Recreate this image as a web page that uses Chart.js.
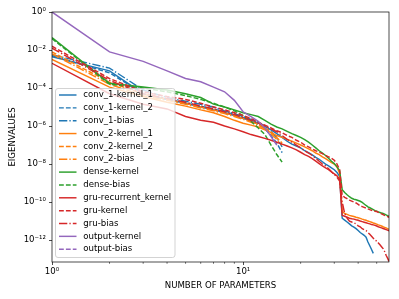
<!DOCTYPE html>
<html>
<head>
<meta charset="utf-8">
<script src="https://cdn.jsdelivr.net/npm/chart.js@4.4.0/dist/chart.umd.min.js"></script>
<style>
  html, body { margin: 0; padding: 0; background: #fff; }
</style>
</head>
<body>
<canvas id="eig" width="399" height="299"></canvas>
<script>
// eigenvalue spectra, one list per parameter tensor (index = number of parameters)
const conv1Kernel1 = [4.47e-3, 7.94e-4, 5.01e-5, 2.51e-5, 1.58e-5, 1.0e-5, 7.08e-6, 5.01e-6, 3.55e-6, 2.51e-6,
  2.0e-6, 1.41e-6, 1.0e-6, 6.31e-7, 3.98e-7, 2.51e-7, 1.58e-7, 1.12e-7, 8.91e-8, 7.08e-8,
  5.01e-8, 3.98e-8, 3.02e-8, 2.24e-8, 1.78e-8, 1.32e-8, 1.0e-8, 7.94e-9, 6.31e-9, 5.01e-9,
  3.55e-9, 2.24e-9, 1.41e-11, 1.12e-11, 8.91e-12, 7.08e-12, 5.62e-12, 4.79e-12, 3.98e-12, 3.16e-12,
  2.51e-12, 2.09e-12, 1.78e-12, 1.41e-12, 7.94e-13, 5.01e-13, 3.16e-13, 2.0e-13];
const conv1Kernel2 = [5.01e-3, 6.31e-4, 5.01e-5, 2.51e-5, 1.58e-5, 1.12e-5, 7.94e-6, 5.62e-6, 3.98e-6, 2.82e-6,
  2.0e-6, 1.26e-6, 7.08e-7, 3.16e-7, 1.26e-7, 3.98e-8];
const conv1Bias = [5.62e-3, 1.12e-3, 7.94e-5, 3.16e-5, 2.0e-5, 1.41e-5, 1.0e-5, 6.31e-6, 4.47e-6, 3.16e-6,
  2.24e-6, 1.58e-6, 1.0e-6, 5.01e-7, 2.51e-7, 7.94e-8];
const conv2Kernel1 = [3.16e-3, 1.12e-4, 3.55e-5, 1.78e-5, 1.12e-5, 7.08e-6, 5.01e-6, 3.16e-6, 2.0e-6, 1.41e-6,
  1.12e-6, 8.91e-7, 6.31e-7, 4.47e-7, 3.16e-7, 2.51e-7, 2.0e-7, 1.58e-7, 1.26e-7, 1.0e-7,
  7.94e-8, 6.31e-8, 5.01e-8, 3.8e-8, 3.16e-8, 2.4e-8, 1.91e-8, 1.51e-8, 1.2e-8, 1.0e-8,
  7.08e-9, 3.16e-9, 3.16e-11, 2.51e-11, 2.24e-11, 2.0e-11, 1.86e-11, 1.74e-11, 1.58e-11, 1.48e-11,
  1.38e-11, 1.26e-11, 1.17e-11, 1.1e-11, 1.0e-11, 9.33e-12, 8.71e-12, 7.94e-12, 7.41e-12, 6.92e-12,
  6.31e-12, 5.89e-12, 5.5e-12, 5.01e-12, 4.68e-12, 4.37e-12, 3.98e-12, 3.72e-12];
const conv2Kernel2 = [7.94e-3, 2.0e-4, 5.01e-5, 2.51e-5, 1.58e-5, 1.0e-5, 7.08e-6, 5.01e-6, 3.55e-6, 2.51e-6,
  1.78e-6, 1.26e-6, 7.94e-7, 5.01e-7, 2.51e-7, 1.26e-7];
const conv2Bias = [6.31e-3, 1.58e-4, 3.98e-5, 2.24e-5, 1.41e-5, 8.91e-6, 6.31e-6, 4.47e-6, 3.16e-6, 2.24e-6,
  1.58e-6, 1.12e-6, 7.08e-7, 3.98e-7, 2.0e-7, 1.0e-7];
const denseKernel = [4.47e-2, 1.78e-4, 1.12e-4, 7.94e-5, 5.01e-5, 3.16e-5, 1.41e-5, 1.0e-5, 7.08e-6, 5.01e-6,
  3.98e-6, 3.16e-6, 2.0e-6, 1.26e-6, 8.91e-7, 7.08e-7, 5.25e-7, 3.98e-7, 3.16e-7, 2.51e-7,
  1.91e-7, 1.41e-7, 1.0e-7, 7.08e-8, 5.01e-8, 3.8e-8, 2.82e-8, 2.0e-8, 1.41e-8, 1.05e-8,
  7.08e-9, 4.47e-9, 4.47e-10, 3.16e-10, 2.4e-10, 1.91e-10, 1.58e-10, 1.41e-10, 1.32e-10, 1.2e-10,
  1.1e-10, 9.55e-11, 7.94e-11, 6.61e-11, 5.62e-11, 5.01e-11, 4.47e-11, 3.98e-11, 3.55e-11, 3.31e-11,
  3.02e-11, 2.82e-11, 2.63e-11, 2.51e-11, 2.34e-11, 2.09e-11, 1.91e-11, 1.78e-11];
const denseBias = [3.98e-2, 1.58e-4, 1.0e-4, 6.31e-5, 3.98e-5, 2.51e-5, 1.58e-5, 1.0e-5, 6.31e-6, 3.55e-6,
  1.78e-6, 7.94e-7, 3.55e-7, 1.0e-7, 3.16e-8, 1.26e-8];
const gruRecurrentKernel = [2.0e-3, 5.01e-5, 1.41e-5, 7.94e-6, 3.16e-6, 2.0e-6, 1.58e-6, 1.0e-6, 7.08e-7, 5.01e-7,
  3.55e-7, 2.82e-7, 2.24e-7, 1.78e-7, 1.41e-7, 1.12e-7, 8.91e-8, 7.08e-8, 5.62e-8, 4.17e-8,
  3.16e-8, 2.51e-8, 1.91e-8, 1.41e-8, 1.05e-8, 7.94e-9, 6.31e-9, 5.01e-9, 3.8e-9, 3.02e-9,
  2.4e-9, 1.58e-9, 2.0e-11, 1.78e-11, 1.58e-11, 1.41e-11, 1.32e-11, 1.26e-11, 1.17e-11, 1.1e-11,
  1.0e-11, 9.33e-12, 8.71e-12, 8.13e-12, 7.59e-12, 7.08e-12, 6.61e-12, 6.31e-12, 5.89e-12, 5.5e-12,
  5.01e-12, 4.68e-12, 4.37e-12, 4.07e-12, 3.8e-12, 3.55e-12, 3.31e-12, 3.02e-12];
const gruKernel = [1.58e-2, 3.16e-4, 6.31e-5, 3.55e-5, 2.51e-5, 1.58e-5, 1.0e-5, 7.08e-6, 5.01e-6, 3.55e-6,
  2.51e-6, 1.58e-6, 1.12e-6, 7.94e-7, 5.62e-7, 4.47e-7, 3.16e-7, 2.51e-7, 1.78e-7, 1.41e-7,
  1.0e-7, 7.94e-8, 6.31e-8, 5.01e-8, 4.17e-8, 3.55e-8, 2.82e-8, 2.4e-8, 2.0e-8, 1.58e-8,
  1.0e-8, 5.01e-9, 2.24e-10, 1.78e-10, 1.51e-10, 1.26e-10, 1.12e-10, 1.0e-10, 8.91e-11, 7.59e-11,
  6.31e-11, 5.75e-11, 5.25e-11, 4.79e-11, 4.37e-11, 3.98e-11, 3.72e-11, 3.47e-11, 3.31e-11, 3.16e-11,
  2.88e-11, 2.63e-11, 2.4e-11, 2.19e-11, 2.0e-11, 1.86e-11, 1.7e-11, 1.58e-11];
const gruBias = [1.26e-2, 2.51e-4, 5.01e-5, 2.82e-5, 1.78e-5, 1.12e-5, 7.94e-6, 5.62e-6, 3.98e-6, 2.82e-6,
  2.0e-6, 1.41e-6, 1.0e-6, 7.08e-7, 5.01e-7, 3.16e-7, 2.0e-7, 1.41e-7, 1.0e-7, 7.08e-8,
  5.01e-8, 3.8e-8, 2.82e-8, 2.0e-8, 1.41e-8, 1.0e-8, 7.94e-9, 5.62e-9, 3.98e-9, 2.82e-9,
  2.0e-9, 1.26e-9, 1.0e-10, 2.51e-11, 1.41e-11, 1.0e-11, 8.91e-12, 7.94e-12, 7.08e-12, 5.62e-12,
  5.01e-12, 3.98e-12, 3.55e-12, 3.16e-12, 2.51e-12, 2.0e-12, 1.58e-12, 1.26e-12, 1.0e-12, 8.91e-13,
  7.08e-13, 5.62e-13, 4.47e-13, 3.55e-13, 2.51e-13, 1.58e-13, 1.12e-13, 7.59e-14];
const outputKernel = [1.0, 7.94e-3, 2.51e-3, 7.94e-4, 3.16e-4, 2.14e-4, 1.12e-4, 6.31e-5, 2.24e-5, 5.62e-6,
  3.16e-6, 1.78e-6, 7.94e-7, 2.82e-7, 1.0e-7];
const outputBias = [3.16e-3];

const seriesNames = ['conv_1-kernel_1', 'conv_1-kernel_2', 'conv_1-bias', 'conv_2-kernel_1', 'conv_2-kernel_2',
  'conv_2-bias', 'dense-kernel', 'dense-bias', 'gru-recurrent_kernel', 'gru-kernel', 'gru-bias',
  'output-kernel', 'output-bias'];
const seriesValues = [conv1Kernel1, conv1Kernel2, conv1Bias, conv2Kernel1, conv2Kernel2, conv2Bias,
  denseKernel, denseBias, gruRecurrentKernel, gruKernel, gruBias, outputKernel, outputBias];

const xTicks = [1, 2, 3, 4, 5, 6, 7, 8, 9, 10, 20, 30, 40, 50];
const yTicks = [1e-12, 1e-10, 1e-8, 1e-6, 1e-4, 1e-2, 1];

// matplotlib tab10 colours and line styles
const palette = ['#1f77b4', '#1f77b4', '#1f77b4', '#ff7f0e', '#ff7f0e', '#ff7f0e', '#2ca02c', '#2ca02c',
  '#d62728', '#d62728', '#d62728', '#9467bd', '#9467bd'];
const DASH = [4.8, 2.1];
const DASHDOT = [8.3, 2.1, 1.3, 2.1];
const dashes = [[], DASH, DASHDOT, [], DASH, DASHDOT, [], DASH, [], DASH, DASHDOT, [], DASH];
const LW = 1.45;

const FONT = 'DejaVu Sans';
const SUP = {'0': '⁰', '1': '¹', '2': '²', '3': '³', '4': '⁴', '5': '⁵', '6': '⁶', '7': '⁷', '8': '⁸', '9': '⁹', '-': '⁻'};
const pow10Label = (v) => '10' + String(Math.round(Math.log10(v))).split('').map(c => SUP[c]).join('');

const datasets = seriesNames.map((name, i) => ({
  label: name,
  data: seriesValues[i].map((v, k) => ({x: k + 1, y: v})),
  borderColor: palette[i],
  borderDash: dashes[i],
  borderWidth: LW,
  pointRadius: 0,
  fill: false,
  tension: 0,
  order: seriesNames.length - i
}));

const framePlugin = {
  id: 'frame',
  beforeDraw(chart) {
    const c = chart.ctx;
    c.save();
    c.fillStyle = '#fff';
    c.fillRect(0, 0, chart.width, chart.height);
    c.restore();
  },
  afterDraw(chart) {
    const c = chart.ctx;
    const a = chart.chartArea;
    c.save();
    // minor ticks on x
    const xs = chart.scales.x;
    c.strokeStyle = '#000';
    c.lineWidth = 0.55;
    xTicks.filter(v => v !== 1 && v !== 10).forEach(v => {
      const px = xs.getPixelForValue(v);
      c.beginPath();
      c.moveTo(px, a.bottom);
      c.lineTo(px, a.bottom + 1.8);
      c.stroke();
    });
    // spines
    c.lineWidth = 0.7;
    c.strokeRect(a.left, a.top, a.right - a.left, a.bottom - a.top);

    // legend box
    const bx = 55.5, by = 88.5, bw = 119.5, bh = 169;
    c.beginPath();
    if (c.roundRect) c.roundRect(bx, by, bw, bh, 2.5); else c.rect(bx, by, bw, bh);
    c.fillStyle = 'rgba(255,255,255,0.8)';
    c.fill();
    c.strokeStyle = '#cccccc';
    c.lineWidth = 0.87;
    c.stroke();

    c.font = '8.6px "' + FONT + '"';
    c.textBaseline = 'middle';
    c.textAlign = 'left';
    chart.data.datasets.forEach((ds, i) => {
      const y = 95 + i * 12.85;
      c.beginPath();
      c.setLineDash(ds.borderDash);
      c.strokeStyle = ds.borderColor;
      c.lineWidth = LW;
      c.moveTo(59, y);
      c.lineTo(76.5, y);
      c.stroke();
      c.setLineDash([]);
      c.fillStyle = '#000';
      c.fillText(ds.label, 83.3, y);
    });
    c.restore();
  }
};

new Chart(document.getElementById('eig'), {
  type: 'line',
  data: {datasets},
  plugins: [framePlugin],
  options: {
    responsive: false,
    animation: false,
    devicePixelRatio: 1,
    layout: {padding: {top: 12, right: 10, left: 0, bottom: 0}},
    plugins: {legend: {display: false}, tooltip: {enabled: false}},
    scales: {
      x: {
        type: 'logarithmic',
        min: 1,
        max: 58,
        afterBuildTicks: (s) => { s.ticks = xTicks.map(v => ({value: v})); },
        afterFit: (s) => { s.height = 37; },
        border: {display: false},
        grid: {
          drawOnChartArea: false,
          tickLength: 3,
          tickWidth: 0.7,
          tickColor: (ctx) => (ctx.tick && (ctx.tick.value === 1 || ctx.tick.value === 10)) ? '#000' : 'rgba(0,0,0,0)'
        },
        ticks: {
          autoSkip: false,
          maxRotation: 0,
          padding: 2,
          color: '#000',
          font: {family: FONT, size: 8.6},
          callback: (v) => (v === 1 || v === 10) ? pow10Label(v) : ''
        },
        title: {
          display: true,
          text: 'NUMBER OF PARAMETERS',
          color: '#000',
          font: {family: FONT, size: 8.6},
          padding: {top: 0, bottom: 8}
        }
      },
      y: {
        type: 'logarithmic',
        min: 7e-14,
        max: 1,
        afterBuildTicks: (s) => { s.ticks = yTicks.map(v => ({value: v})); },
        afterFit: (s) => { s.width = 52; },
        border: {display: false},
        grid: {drawOnChartArea: false, tickLength: 3, tickWidth: 0.7, tickColor: '#000'},
        ticks: {
          autoSkip: false,
          padding: 3,
          color: '#000',
          font: {family: FONT, size: 8.6},
          callback: (v) => pow10Label(v)
        },
        title: {
          display: true,
          text: 'EIGENVALUES',
          color: '#000',
          font: {family: FONT, size: 8.6},
          padding: {top: 8, bottom: 0}
        }
      }
    }
  }
});
</script>
</body>
</html>
